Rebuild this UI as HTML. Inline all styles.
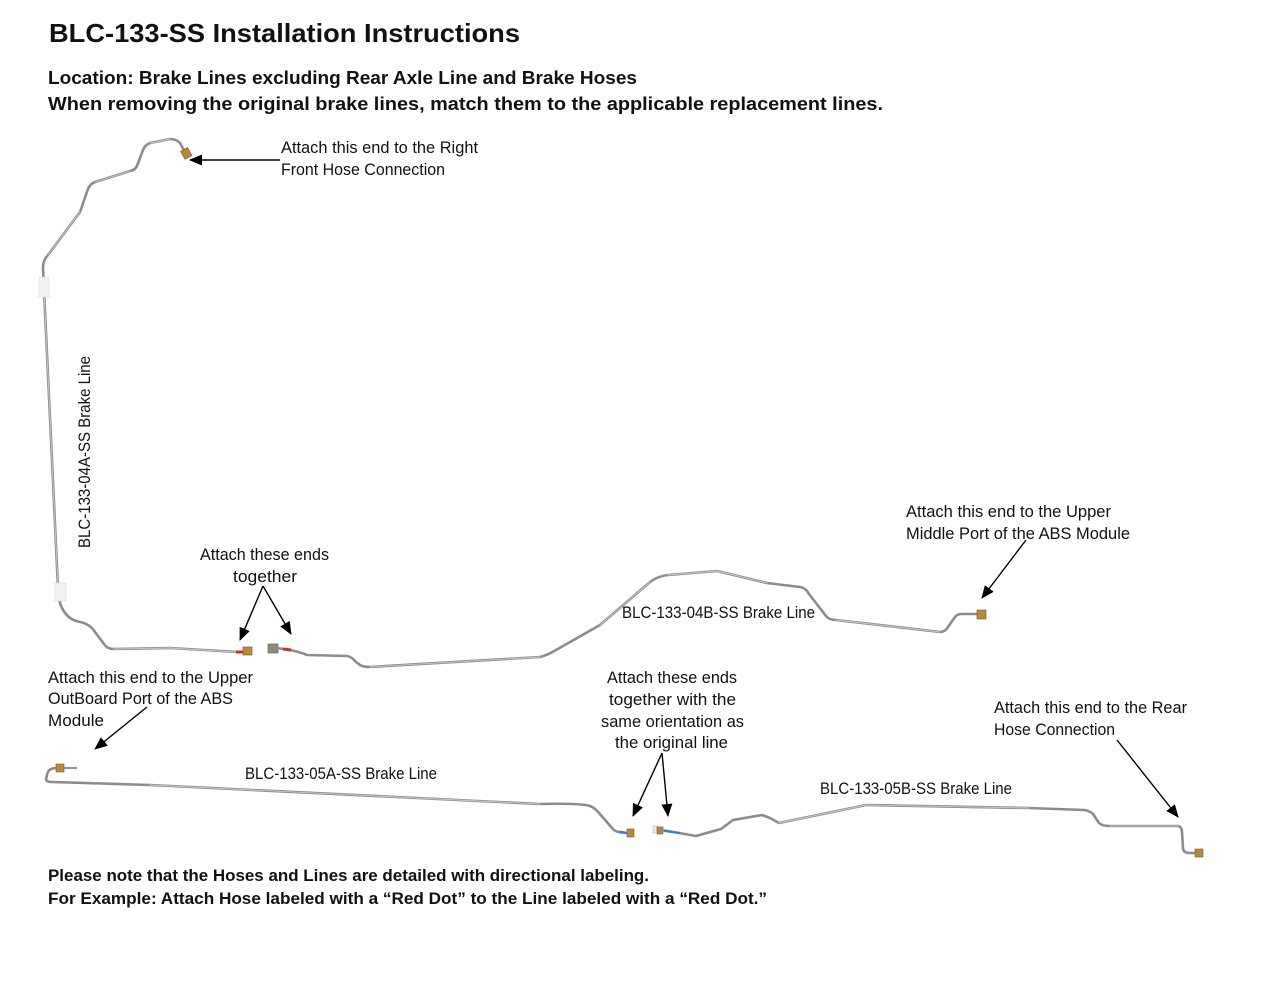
<!DOCTYPE html>
<html>
<head>
<meta charset="utf-8">
<style>
html,body{margin:0;padding:0;background:#fff;}
svg{display:block;}
text{font-family:"Liberation Sans",Arial,sans-serif;fill:#111;}
.t{font-size:16.5px;}
.b{font-weight:bold;}
.tube{fill:none;stroke:#8c8c8c;stroke-width:2.6;stroke-linejoin:round;stroke-linecap:round;}
.tubehi{fill:none;stroke:#c9c9c9;stroke-width:0.9;stroke-linejoin:round;stroke-linecap:round;}
.arr{stroke:#000;stroke-width:1.4;fill:none;}
.fit{fill:#b58a3c;stroke:#7a5a22;stroke-width:0.6;}
</style>
</head>
<body>
<svg width="1280" height="989" viewBox="0 0 1280 989" xmlns="http://www.w3.org/2000/svg">
<defs>
<marker id="ah" markerUnits="userSpaceOnUse" markerWidth="13" markerHeight="11" refX="12" refY="5.5" orient="auto">
<path d="M0,0 L13,5.5 L0,11 z" fill="#000"/>
</marker>
</defs>
<rect width="1280" height="989" fill="#fff"/>

<!-- Header -->
<text x="49" y="42" class="b" font-size="26" textLength="471" lengthAdjust="spacingAndGlyphs">BLC-133-SS Installation Instructions</text>
<text x="48" y="84" class="b" font-size="18" textLength="589" lengthAdjust="spacingAndGlyphs">Location: Brake Lines excluding Rear Axle Line and Brake Hoses</text>
<text x="48" y="110" class="b" font-size="18" textLength="835" lengthAdjust="spacingAndGlyphs">When removing the original brake lines, match them to the applicable replacement lines.</text>

<!-- Line 04A -->
<path class="tube" d="M186,154 L180,143 Q176,139 170,139 L150,143 Q145,145 143,150 L137,166 Q135,170 130,171 L95,182 Q90,184 88,189 L80,212 L48,255 Q43,260 43,268 L44,290 L58,588 Q58,600 62,608 Q68,620 80,622 Q90,624 95,632 L104,644 Q107,649 114,649 L170,648 L238,652"/>
<path class="tubehi" d="M170,139 L150,143 M130,171 L95,182 M80,212 L48,255 M44,290 L58,588 M114,649 L170,648 L236,652"/>
<rect x="39" y="277" width="10" height="20" fill="#f0f0f0" stroke="#ddd" stroke-width="0.5"/>
<rect x="55" y="583" width="11" height="18" fill="#f0f0f0" stroke="#ddd" stroke-width="0.5"/>
<rect x="182" y="149" width="8" height="9" class="fit" transform="rotate(-30 186 153)"/>
<line x1="236" y1="652" x2="244" y2="652" stroke="#d62a1f" stroke-width="3"/>
<rect x="243" y="647" width="9" height="8" class="fit"/>
<text class="t" transform="translate(90,548) rotate(-90)" textLength="192" lengthAdjust="spacingAndGlyphs">BLC-133-04A-SS Brake Line</text>

<!-- Line 04B -->
<rect x="268" y="644" width="10" height="9" fill="#8f8a7a" stroke="#555" stroke-width="0.6"/>
<path class="tube" d="M277,648 L290,650 Q300,652 307,655 L347,656 Q352,657 356,662 L360,665 Q363,667 370,667 L540,657 Q548,655 556,650 L600,625 L650,582 Q658,576 668,575 L717,571 L767,583 L800,587 Q806,588 809,594 L826,616 Q829,620 836,620 L940,632 Q945,632 948,627 L955,617 Q957,614 962,614 L978,614"/>
<path class="tubehi" d="M370,667 L540,657 M600,625 L650,582 M668,575 L717,571 L767,583 M836,620 L940,632"/>
<line x1="283" y1="649" x2="291" y2="650" stroke="#d62a1f" stroke-width="3"/>
<rect x="977" y="610" width="9" height="9" class="fit"/>

<!-- Line 05A -->
<line x1="64" y1="768" x2="77" y2="768" stroke="#9a9a9a" stroke-width="2.2"/>
<path class="tube" d="M57,768 Q48,768 47,775 L46,779 Q46,782 52,782 L150,785 L540,804 Q580,803 590,806 Q595,808 599,813 L612,828 Q615,832 620,832 L626,833"/>
<path class="tubehi" d="M150,785 L540,804"/>
<rect x="56" y="764" width="8" height="8" class="fit"/>
<line x1="619" y1="832" x2="627" y2="833" stroke="#3a7bd5" stroke-width="2.6"/>
<rect x="627" y="829" width="7" height="8" class="fit"/>

<!-- Line 05B -->
<rect x="653" y="826" width="5" height="7" fill="#e8e8e8" stroke="#aaa" stroke-width="0.5"/>
<rect x="657" y="827" width="6" height="7" class="fit"/>
<path class="tube" d="M662,830 L696,836 L721,829 L733,820 L762,815 L770,818 L779,823 L866,805 L1029,808 L1084,810 Q1092,811 1095,817 L1099,823 Q1102,826 1110,826 L1178,826 Q1182,827 1182,832 L1183,848 Q1183,853 1190,853 L1195,853"/>
<path class="tubehi" d="M779,823 L866,805 L1029,808 M1110,826 L1178,826"/>
<line x1="664" y1="831" x2="680" y2="833" stroke="#3a7bd5" stroke-width="2"/>
<rect x="1195" y="849" width="8" height="8" class="fit"/>

<!-- Annotations -->
<text x="281" y="153" class="t" textLength="197" lengthAdjust="spacingAndGlyphs">Attach this end to the Right</text>
<text x="281" y="175" class="t" textLength="164" lengthAdjust="spacingAndGlyphs">Front Hose Connection</text>
<line class="arr" x1="280" y1="160" x2="190" y2="160" marker-end="url(#ah)"/>

<text x="200" y="560" class="t" textLength="129" lengthAdjust="spacingAndGlyphs">Attach these ends</text>
<text x="233" y="582" class="t" textLength="64" lengthAdjust="spacingAndGlyphs">together</text>
<line class="arr" x1="263" y1="586" x2="240" y2="640" marker-end="url(#ah)"/>
<line class="arr" x1="263" y1="586" x2="291" y2="634" marker-end="url(#ah)"/>

<text x="906" y="517" class="t" textLength="205" lengthAdjust="spacingAndGlyphs">Attach this end to the Upper</text>
<text x="906" y="539" class="t" textLength="224" lengthAdjust="spacingAndGlyphs">Middle Port of the ABS Module</text>
<line class="arr" x1="1026" y1="540" x2="982" y2="598" marker-end="url(#ah)"/>

<text x="622" y="618" class="t" textLength="193" lengthAdjust="spacingAndGlyphs">BLC-133-04B-SS Brake Line</text>

<text x="48" y="683" class="t" textLength="205" lengthAdjust="spacingAndGlyphs">Attach this end to the Upper</text>
<text x="48" y="704" class="t" textLength="185" lengthAdjust="spacingAndGlyphs">OutBoard Port of the ABS</text>
<text x="48" y="726" class="t" textLength="56" lengthAdjust="spacingAndGlyphs">Module</text>
<line class="arr" x1="147" y1="707" x2="95" y2="749" marker-end="url(#ah)"/>

<text x="607" y="683" class="t" textLength="130" lengthAdjust="spacingAndGlyphs">Attach these ends</text>
<text x="609" y="705" class="t" textLength="127" lengthAdjust="spacingAndGlyphs">together with the</text>
<text x="601" y="727" class="t" textLength="143" lengthAdjust="spacingAndGlyphs">same orientation as</text>
<text x="615" y="748" class="t" textLength="113" lengthAdjust="spacingAndGlyphs">the original line</text>
<line class="arr" x1="662" y1="753" x2="633" y2="816" marker-end="url(#ah)"/>
<line class="arr" x1="662" y1="753" x2="668" y2="816" marker-end="url(#ah)"/>

<text x="994" y="713" class="t" textLength="193" lengthAdjust="spacingAndGlyphs">Attach this end to the Rear</text>
<text x="994" y="735" class="t" textLength="121" lengthAdjust="spacingAndGlyphs">Hose Connection</text>
<line class="arr" x1="1117" y1="740" x2="1178" y2="817" marker-end="url(#ah)"/>

<text x="245" y="779" class="t" textLength="192" lengthAdjust="spacingAndGlyphs">BLC-133-05A-SS Brake Line</text>
<text x="820" y="794" class="t" textLength="192" lengthAdjust="spacingAndGlyphs">BLC-133-05B-SS Brake Line</text>

<!-- Footer -->
<text x="48" y="881" class="b" font-size="17" textLength="601" lengthAdjust="spacingAndGlyphs">Please note that the Hoses and Lines are detailed with directional labeling.</text>
<text x="48" y="904" class="b" font-size="17" textLength="719" lengthAdjust="spacingAndGlyphs">For Example: Attach Hose labeled with a “Red Dot” to the Line labeled with a “Red Dot.”</text>
</svg>
</body>
</html>
